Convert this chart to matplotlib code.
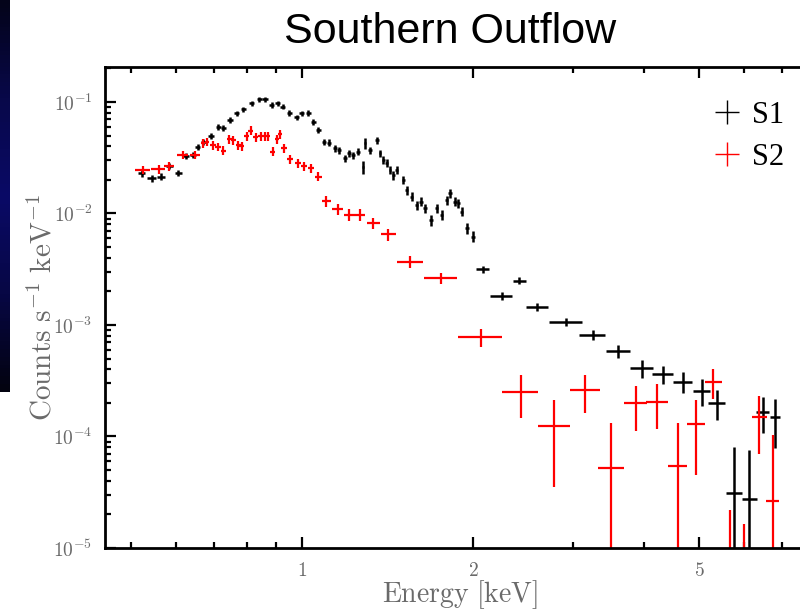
import numpy as np
import matplotlib
matplotlib.use('Agg')
import matplotlib.pyplot as plt
from matplotlib.lines import Line2D
from matplotlib.colors import LinearSegmentedColormap

plt.rcParams['mathtext.fontset'] = 'cm'

# S1 spectrum: energy [keV], counts s^-1 keV^-1, bin half-width, 1-sigma error
s1_energy = [0.522, 0.544, 0.565, 0.584, 0.606, 0.625, 0.642, 0.655, 0.670, 0.692,
             0.712, 0.727, 0.747, 0.767, 0.788, 0.815, 0.841, 0.861, 0.885, 0.906,
             0.925, 0.950, 0.979, 0.999, 1.026, 1.047, 1.068, 1.093, 1.117, 1.143,
             1.163, 1.190, 1.211, 1.231, 1.256, 1.279, 1.291, 1.317, 1.354, 1.372,
             1.391, 1.409, 1.428, 1.448, 1.468, 1.508, 1.529, 1.560, 1.592, 1.620,
             1.646, 1.687, 1.726, 1.762, 1.798, 1.822, 1.859, 1.884, 1.910, 1.950,
             1.998, 2.080, 2.247, 2.413, 2.596, 2.916, 3.249, 3.605, 3.963, 4.315,
             4.679, 5.055, 5.372, 5.764, 6.133, 6.473, 6.804]
s1_counts = [0.0229, 0.0207, 0.0214, 0.0267, 0.0232, 0.0328, 0.0335, 0.0397, 0.0440, 0.0496,
             0.0601, 0.0588, 0.0690, 0.0792, 0.0860, 0.0973, 0.1057, 0.1057, 0.0940, 0.0973,
             0.0907, 0.0802, 0.0729, 0.0792, 0.0802, 0.0666, 0.0561, 0.0440, 0.0432, 0.0385,
             0.0371, 0.0313, 0.0347, 0.0335, 0.0358, 0.0263, 0.0426, 0.0371, 0.0456, 0.0347,
             0.0302, 0.0282, 0.0246, 0.0221, 0.0246, 0.0200, 0.0163, 0.0142, 0.0119, 0.0128,
             0.0111, 0.0087, 0.0111, 0.0097, 0.0132, 0.0152, 0.0128, 0.0124, 0.0104, 0.0074,
             0.0062, 0.00316, 0.00182, 0.00250, 0.00146, 0.00106, 0.000813, 0.000588, 0.000409, 0.000363,
             0.000310, 0.000258, 0.000201, 0.0000313, 0.0000273, 0.000167, 0.000149]
s1_xerr = [0.008, 0.010, 0.010, 0.008, 0.009, 0.008, 0.008, 0.006, 0.007, 0.008,
           0.007, 0.007, 0.008, 0.008, 0.008, 0.009, 0.009, 0.009, 0.009, 0.009,
           0.009, 0.010, 0.010, 0.010, 0.010, 0.010, 0.010, 0.010, 0.010, 0.010,
           0.010, 0.010, 0.010, 0.010, 0.010, 0.006, 0.006, 0.010, 0.010, 0.008,
           0.008, 0.008, 0.008, 0.008, 0.008, 0.010, 0.010, 0.010, 0.011, 0.011,
           0.011, 0.012, 0.012, 0.012, 0.012, 0.012, 0.012, 0.012, 0.012, 0.015,
           0.015, 0.054, 0.100, 0.064, 0.117, 0.19, 0.17, 0.18, 0.18, 0.19,
           0.18, 0.17, 0.18, 0.18, 0.18, 0.17, 0.15]
s1_yerr = [0.0016, 0.0014, 0.0015, 0.0018, 0.0015, 0.0021, 0.0021, 0.0025, 0.0028, 0.0030,
           0.0035, 0.0035, 0.0040, 0.0045, 0.0048, 0.0052, 0.0056, 0.0056, 0.0052, 0.0053,
           0.0050, 0.0046, 0.0043, 0.0046, 0.0046, 0.0040, 0.0035, 0.0030, 0.0030, 0.0027,
           0.0026, 0.0023, 0.0025, 0.0024, 0.0026, 0.0035, 0.0045, 0.0027, 0.0033, 0.0026,
           0.0024, 0.0023, 0.0021, 0.0020, 0.0021, 0.0017, 0.0015, 0.0013, 0.0011, 0.0012,
           0.0011, 0.0009, 0.0011, 0.0010, 0.0012, 0.0013, 0.0012, 0.0012, 0.0010, 0.0008,
           0.0007, 0.00022, 0.00014, 0.00019, 0.00012, 0.00009, 0.000085, 0.00008, 0.000074, 0.00007,
           0.000065, 0.00007, 0.00006, 0.00005, 0.000048, 0.00006, 0.00007]

# S2 spectrum
s2_energy = [0.524, 0.559, 0.584, 0.617, 0.648, 0.670, 0.681, 0.698, 0.712, 0.727,
             0.745, 0.757, 0.773, 0.783, 0.799, 0.813, 0.829, 0.846, 0.861, 0.872,
             0.888, 0.903, 0.915, 0.930, 0.953, 0.983, 1.008, 1.037, 1.068, 1.104,
             1.156, 1.211, 1.265, 1.335, 1.419, 1.551, 1.757, 2.066, 2.427, 2.780,
             3.155, 3.500, 3.867, 4.220, 4.585, 4.945, 5.300, 5.669, 6.010, 6.384,
             6.740]
s2_counts = [0.0246, 0.0249, 0.0267, 0.0335, 0.0335, 0.0426, 0.0440, 0.0411, 0.0397, 0.0366,
             0.0466, 0.0456, 0.0411, 0.0403, 0.0496, 0.0553, 0.0482, 0.0496, 0.0496, 0.0496,
             0.0358, 0.0463, 0.0516, 0.0385, 0.0306, 0.0282, 0.0267, 0.0254, 0.0214, 0.0129,
             0.0109, 0.0097, 0.0097, 0.0082, 0.0065, 0.00370, 0.00262, 0.000776, 0.000252, 0.000124,
             0.000261, 0.0000519, 0.000199, 0.000205, 0.0000544, 0.000129, 0.000310, 0.000006, 0.000005, 0.000149,
             0.0000266]
s2_xerr = [0.016, 0.016, 0.012, 0.014, 0.014, 0.006, 0.006, 0.008, 0.008, 0.008,
           0.008, 0.008, 0.008, 0.008, 0.008, 0.008, 0.008, 0.008, 0.006, 0.006,
           0.008, 0.008, 0.008, 0.010, 0.012, 0.012, 0.012, 0.014, 0.015, 0.020,
           0.027, 0.026, 0.028, 0.036, 0.042, 0.084, 0.118, 0.184, 0.180, 0.180,
           0.190, 0.185, 0.178, 0.180, 0.180, 0.177, 0.180, 0.180, 0.180, 0.190,
           0.180]
s2_yerr = [0.0022, 0.0022, 0.0024, 0.0030, 0.0030, 0.0038, 0.0039, 0.0037, 0.0036, 0.0033,
           0.0042, 0.0041, 0.0037, 0.0036, 0.0045, 0.0050, 0.0043, 0.0045, 0.0045, 0.0045,
           0.0033, 0.0042, 0.0046, 0.0035, 0.0028, 0.0026, 0.0024, 0.0023, 0.0020, 0.0015,
           0.0013, 0.0012, 0.0012, 0.0010, 0.0008, 0.00048, 0.00028, 0.00014, 0.000104, 0.0000885,
           0.000097, 0.000079, 0.000087, 0.000089, 0.000079, 0.000084, 0.000094, 0.000016, 0.0000114, 0.00008,
           0.000077]

major_x = [1, 2, 5]
minor_x = [0.5, 0.6, 0.7, 0.8, 0.9, 3, 4, 6, 7, 8]
major_y = [1e-5, 1e-4, 1e-3, 1e-2, 1e-1]
ytick_labels = [r'$10^{-5}$', r'$10^{-4}$', r'$10^{-3}$', r'$10^{-2}$', r'$10^{-1}$']

W, H = 800, 613
fig = plt.figure(figsize=(W / 100, H / 100), dpi=100)

# dark blue strip down the left edge
strip = fig.add_axes([0, 1 - 392 / H, 10 / W, 392 / H])
cmap = LinearSegmentedColormap.from_list('navy', ['#04041a', '#08084a', '#0a0a66', '#070745', '#030310'])
strip.imshow(np.linspace(0, 1, 100).reshape(-1, 1), aspect='auto', cmap=cmap)
strip.set_axis_off()

ax = fig.add_axes([105 / W, 1 - 548 / H, 710 / W, 481 / H])
ax.set_xscale('log')
ax.set_yscale('log')

ax.errorbar(s1_energy, s1_counts, xerr=s1_xerr, yerr=s1_yerr, fmt='none',
            ecolor='black', elinewidth=1.8, capsize=0)
ax.errorbar(s2_energy, s2_counts, xerr=s2_xerr, yerr=s2_yerr, fmt='none',
            ecolor='red', elinewidth=1.6, capsize=0)

ax.set_xlim(0.45, 8.0)
ax.set_ylim(1e-5, 0.206)

ax.set_xticks(major_x)
ax.set_xticklabels([r'$%d$' % v for v in major_x])
ax.set_xticks(minor_x, minor=True)
ax.xaxis.set_minor_formatter(plt.NullFormatter())
ax.set_yticks(major_y)
ax.set_yticklabels(ytick_labels)

grey = '#6a6a6a'
ax.tick_params(which='both', direction='in', top=True, right=True, width=1.6,
               colors='black', labelcolor=grey, labelsize=14)
ax.tick_params(which='major', length=8, pad=9)
ax.tick_params(which='minor', length=4.5)
for sp in ax.spines.values():
    sp.set_linewidth(2.0)

ax.set_xlabel(r'$\mathrm{Energy\ [keV]}$', fontsize=20, color=grey, labelpad=-1)
ax.set_ylabel(r'$\mathrm{Counts\ s^{-1}\ keV^{-1}}$', fontsize=21, color=grey, labelpad=-3)

handles = [Line2D([], [], color='black', marker='+', linestyle='none', markersize=17, mew=1.0),
           Line2D([], [], color='red', marker='+', linestyle='none', markersize=17, mew=1.0)]
ax.legend(handles, ['S1', 'S2'], loc='upper left', bbox_to_anchor=(712 / W, 1 - 101 / H),
          bbox_transform=fig.transFigure, frameon=False, prop={'family': 'Liberation Serif', 'size': 22},
          handlelength=1.0, handletextpad=0.3, labelspacing=0.42, borderaxespad=0, borderpad=0)

fig.text(450 / W, 1 - 32 / H, 'Southern Outflow', ha='center', va='center',
         fontsize=31, family='Liberation Sans')

fig.savefig('out.png', dpi=100)
